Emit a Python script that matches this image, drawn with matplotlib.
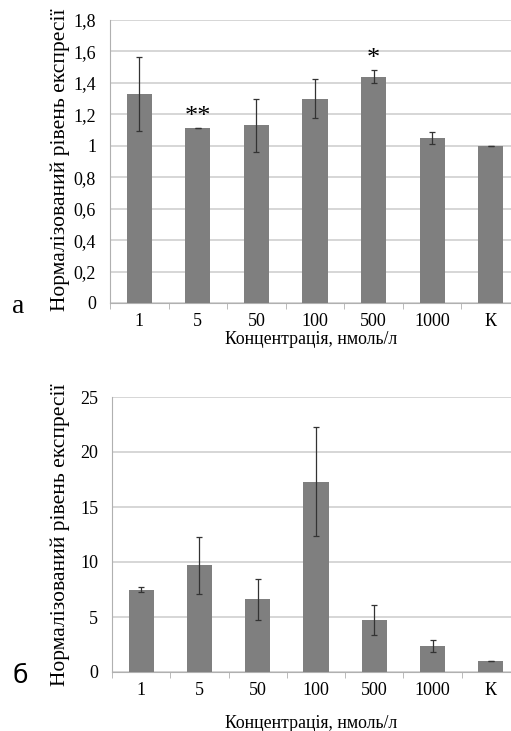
import numpy as np
import matplotlib
matplotlib.use('Agg')
import matplotlib.pyplot as plt

plt.rcParams['font.family'] = ['Liberation Serif', 'DejaVu Serif']

categories = ['1', '5', '50', '100', '500', '1000', 'К']

# panel a
values_a = [1.33, 1.11, 1.13, 1.30, 1.44, 1.05, 1.00]
errors_a = [0.235, 0.0, 0.17, 0.125, 0.04, 0.04, 0.0]
stars_a = ['', '**', '', '', '*', '', '']
star_y_a = [0, 1.11, 0, 0, 1.48, 0, 0]

# panel b
values_b = [7.5, 9.7, 6.6, 17.3, 4.7, 2.4, 1.0]
errors_b = [0.25, 2.6, 1.85, 4.95, 1.35, 0.55, 0.0]

ylabel = 'Нормалізований рівень експресії'
xlabel = 'Концентрація, нмоль/л'

bar_color = '#7f7f7f'
grid_color = '#cfcfcf'
axis_color = '#b0b0b0'

W, H = 511, 731
fig = plt.figure(figsize=(W / 100, H / 100), dpi=100)


def panel(ax, values, errors, ymax, step, fmt):
    x = np.arange(len(categories))
    ax.bar(x, values, width=0.43, color=bar_color, zorder=3)
    ax.errorbar(x, values, yerr=errors, fmt='none', ecolor='#333333',
                elinewidth=0.9, capsize=2.5, capthick=0.9, zorder=4)
    ax.set_xlim(-0.5, len(categories) - 0.5)
    ax.set_ylim(0, ymax)
    ticks = np.arange(0, ymax + step / 2, step)
    ax.set_yticks(ticks)
    ax.set_yticklabels([fmt(t) for t in ticks], fontsize=13)
    ax.set_xticks(x)
    ax.set_xticklabels(categories, fontsize=13)
    ax.set_xticks(np.arange(-0.5, len(categories), 1.0), minor=True)
    ax.tick_params(axis='x', which='major', length=0, pad=7)
    ax.tick_params(axis='x', which='minor', length=4, color=axis_color)
    ax.tick_params(axis='y', length=0, pad=10)
    ax.yaxis.grid(True, color=grid_color, linewidth=1.2, zorder=0)
    for s in ['top', 'right']:
        ax.spines[s].set_visible(False)
    for s in ['left', 'bottom']:
        ax.spines[s].set_color(axis_color)
    ax.set_axisbelow(True)


def fig_box(left, top, right, bottom):
    return [left / W, 1 - bottom / H, (right - left) / W, (bottom - top) / H]


ax1 = fig.add_axes(fig_box(110, 20, 520, 303))
panel(ax1, values_a, errors_a, 1.8, 0.2,
      lambda t: ('%g' % round(t, 1)).replace('.', ','))
for i, s in enumerate(stars_a):
    if s:
        ax1.text(i, star_y_a[i], s, ha='center', va='bottom', fontsize=19)

ax2 = fig.add_axes(fig_box(112, 397, 520, 672))
panel(ax2, values_b, errors_b, 25, 5, lambda t: '%d' % t)

fig.text(60 / W, 1 - 160 / H, ylabel, rotation=90, ha='center', va='center', fontsize=15.5)
fig.text(60 / W, 1 - 535 / H, ylabel, rotation=90, ha='center', va='center', fontsize=15.5)
fig.text(311 / W, 1 - 340 / H, xlabel, ha='center', va='center', fontsize=12.8)
fig.text(311 / W, 1 - 723 / H, xlabel, ha='center', va='center', fontsize=12.8)
fig.text(18 / W, 1 - 306 / H, 'а', ha='center', va='center', fontsize=20)
fig.text(20 / W, 1 - 676 / H, 'б', ha='center', va='center', fontsize=18,
         family=['DejaVu Sans'])

fig.savefig('out.png', dpi=100)
